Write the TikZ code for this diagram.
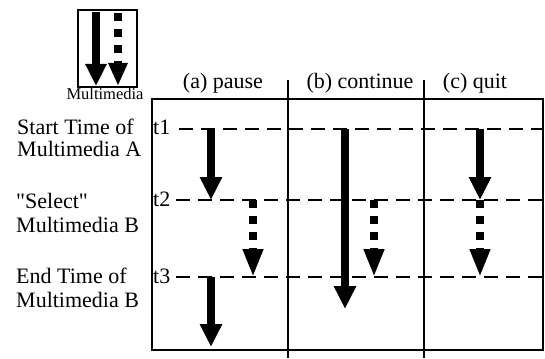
\documentclass[tikz,border=0pt]{standalone}
\usepackage{fontspec}
\setmainfont{Liberation Serif}[Ligatures=TeXOff]
\usetikzlibrary{arrows.meta}
\begin{document}
\begin{tikzpicture}[x=1pt,y=-1pt,
  txt/.style={inner sep=0pt,font=\fontsize{22}{22}\selectfont},
  frame/.style={line width=2.5pt},
  divider/.style={line width=2pt},
  tline/.style={line width=2.2pt,dash pattern=on 14pt off 8pt},
  solidarr/.style={line width=8pt,-{Triangle[width=21pt,length=23pt]}},
  dotarr/.style={line width=8pt,dash pattern=on 8pt off 8pt,-{Triangle[width=19pt,length=28pt]}},
  legsolid/.style={line width=8pt,-{Triangle[width=20pt,length=22pt]}},
  legdot/.style={line width=8pt,dash pattern=on 8pt off 8pt,-{Triangle[width=18pt,length=23pt]}}
]
\useasboundingbox (0,0) rectangle (545,358);
\fill[white] (0,0) rectangle (545,358);

% legend
\draw[frame,line width=2pt] (78,10) rectangle (137,87);
\coordinate (ls1) at (96,12);
\coordinate (ls2) at (96,86);
\coordinate (ld1) at (118,13);
\coordinate (ld2) at (118,86);
\draw[legsolid] (ls1) -- (ls2);
\draw[legdot] (ld1) -- (ld2);
\node[inner sep=0pt,anchor=base,font=\fontsize{16.5}{17}\selectfont] (legtxt) at (105,100) {Multimedia};

% main frame
\draw[frame] (152,99) rectangle (543,350);
\coordinate (d1t) at (288,80);
\coordinate (d1b) at (288,358);
\coordinate (d2t) at (424,80);
\coordinate (d2b) at (424,358);
\draw[divider] (d1t) -- (d1b);
\draw[divider] (d2t) -- (d2b);

% headers
\node[txt,anchor=base] (ha) at (223,89) {(a) pause};
\node[txt,anchor=base] (hb) at (360,89) {(b) continue};
\node[txt,anchor=base] (hc) at (475,89) {(c) quit};

% left labels
\node[txt,anchor=base west] (l1a) at (17,135) {Start Time of};
\node[txt,anchor=base west] (l1b) at (17,157) {Multimedia A};
\node[txt,anchor=base west] (l2a) at (16,208) {"Select"};
\node[txt,anchor=base west] (l2b) at (16,232) {Multimedia B};
\node[txt,anchor=base west] (l3a) at (16,283) {End Time of};
\node[txt,anchor=base west] (l3b) at (16,307) {Multimedia B};

% time labels and dashed lines
\node[txt,anchor=base west] (t1) at (153,135) {t1};
\node[txt,anchor=base west] (t2) at (153,206) {t2};
\node[txt,anchor=base west] (t3) at (153,283) {t3};
\coordinate (e1) at (543,129);
\coordinate (e2) at (543,200);
\coordinate (e3) at (543,277);
\draw[tline] (179,129) -- (e1);
\draw[tline] (176,200) -- (e2);
\draw[tline] (176,277) -- (e3);

% (a) pause
\coordinate (a1) at (211,129);
\coordinate (a2) at (211,200);
\coordinate (a3) at (253,200);
\coordinate (a4) at (253,277);
\coordinate (a5) at (211,277);
\coordinate (a6) at (211,347);
\draw[solidarr] (a1) -- (a2);
\draw[dotarr] (a3) -- (a4);
\draw[solidarr] (a5) -- (a6);

% (b) continue
\coordinate (b1) at (345,129);
\coordinate (b2) at (345,309);
\coordinate (b3) at (374,200);
\coordinate (b4) at (374,277);
\draw[solidarr] (b1) -- (b2);
\draw[dotarr] (b3) -- (b4);

% (c) quit
\coordinate (c1) at (480,129);
\coordinate (c2) at (480,200);
\coordinate (c3) at (480,200);
\coordinate (c4) at (480,277);
\draw[solidarr] (c1) -- (c2);
\draw[dotarr] (c3) -- (c4);
\end{tikzpicture}
\end{document}
